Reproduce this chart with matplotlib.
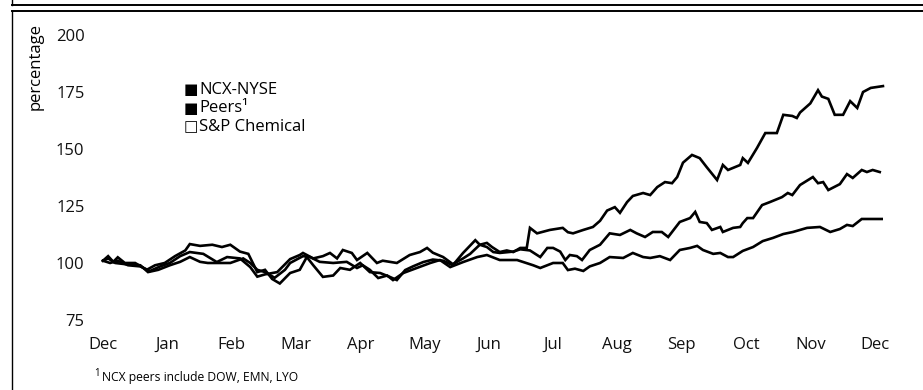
import matplotlib
matplotlib.use("Agg")
import matplotlib.pyplot as plt
from matplotlib.lines import Line2D

plt.rcParams["font.family"] = ["Open Sans", "DejaVu Sans"]

# ---- data (x = months since Dec, y = indexed performance in %) ----
months = ["Dec", "Jan", "Feb", "Mar", "Apr", "May", "Jun", "Jul", "Aug", "Sep", "Oct", "Nov", "Dec"]
y_ticks = [75, 100, 125, 150, 175, 200]

ncx_x = [0.00, 0.08, 0.16, 0.23, 0.34, 0.50, 0.68, 0.81, 0.96, 1.12, 1.28, 1.35, 1.51, 1.70, 1.85,
         1.98, 2.13, 2.26, 2.40, 2.52, 2.63, 2.75, 2.91, 3.06, 3.17, 3.27, 3.42, 3.58, 3.69, 3.84,
         4.00, 4.15, 4.31, 4.46, 4.57, 4.70, 4.82, 4.98, 5.13, 5.29, 5.44, 5.60, 5.79, 5.86, 5.97,
         6.05, 6.17, 6.28, 6.38, 6.49, 6.59, 6.64, 6.75, 6.95, 7.15, 7.23, 7.31, 7.47, 7.62, 7.73,
         7.84, 7.96, 8.04, 8.15, 8.24, 8.40, 8.51, 8.62, 8.74, 8.85, 8.93, 9.02, 9.16, 9.28, 9.39,
         9.55, 9.64, 9.72, 9.91, 9.95, 10.03, 10.17, 10.30, 10.48, 10.58, 10.72, 10.79, 10.84, 11.00,
         11.12, 11.18, 11.28, 11.38, 11.51, 11.62, 11.73, 11.82, 11.94, 12.13]
ncx_y = [101, 103, 100.5, 102.5, 100, 100, 97, 99, 100, 103, 105.5, 108.3, 107.5, 108, 107,
         108, 105, 104, 96, 97, 93, 91, 95.6, 97, 102.6, 99, 93.9, 94.5, 97.8, 97,
         100, 96, 95.6, 93.9, 92.5, 96.9, 98.5, 100.4, 101.5, 101, 99, 104.4, 110, 108, 108.8,
         107, 104.8, 105.5, 104.8, 106.6, 106.6, 115.4, 113, 114.5, 115.4, 113.5, 113, 114.5, 115.8, 118.5,
         123, 124.5, 122, 126.7, 129.4, 130.7, 129.8, 133.3, 135.5, 135, 137.7, 144, 147.4, 146, 142,
         136.4, 143, 140.8, 143, 146, 143.9, 150.4, 157, 157, 165, 164.5, 163.6, 166, 170,
         175.8, 173, 172, 165, 165, 171, 168, 175, 176.8, 177.6]

peers_x = [0.00, 0.11, 0.23, 0.39, 0.58, 0.73, 0.89, 1.04, 1.20, 1.35, 1.56, 1.77, 1.93, 2.13, 2.29,
           2.40, 2.52, 2.71, 2.91, 3.06, 3.11, 3.27, 3.42, 3.53, 3.64, 3.73, 3.87, 3.95, 4.11, 4.26,
           4.35, 4.46, 4.57, 4.77, 4.93, 5.04, 5.13, 5.29, 5.44, 5.60, 5.71, 5.86, 5.97, 6.07, 6.17,
           6.38, 6.49, 6.64, 6.80, 6.91, 7.00, 7.11, 7.19, 7.26, 7.37, 7.45, 7.57, 7.73, 7.88, 8.04,
           8.20, 8.30, 8.43, 8.55, 8.69, 8.79, 8.97, 9.13, 9.21, 9.28, 9.39, 9.47, 9.60, 9.64, 9.80,
           9.91, 9.95, 10.02, 10.11, 10.25, 10.37, 10.56, 10.65, 10.72, 10.84, 11.04, 11.12, 11.20, 11.28,
           11.46, 11.57, 11.66, 11.80, 11.88, 11.97, 12.08]
peers_y = [101, 100, 101, 99, 98.5, 96.5, 98.5, 100, 103, 104.8, 104, 100.4, 102.6, 102, 98.2,
           94, 95, 96, 101.7, 103.5, 104.4, 102, 103, 104.4, 102, 105.7, 104.4, 101.3, 104.4, 100,
           101, 100.5, 100, 103.5, 104.8, 106.6, 104.5, 102.6, 99.5, 102, 104, 108, 107, 104.8, 104.4,
           105, 106, 105.5, 102.6, 106.6, 106.6, 105, 101.3, 103.5, 103, 101.3, 105.7, 108, 113, 112.3,
           114.5, 113, 111.4, 113.6, 113.6, 111.4, 118, 119.7, 122.4, 118, 117.5, 114.5, 115.8, 113.6, 115.4,
           115.8, 117.5, 119.7, 119.7, 125.4, 126.7, 128.9, 130.7, 129.8, 134.2, 137.7, 135, 135.5, 132,
           134.6, 139, 137.3, 140.8, 139.9, 140.8, 139.9]

sp_x = [0.00, 0.08, 0.19, 0.34, 0.58, 0.70, 0.86, 1.04, 1.20, 1.35, 1.51, 1.63, 1.77, 1.98, 2.18,
        2.29, 2.40, 2.52, 2.67, 2.83, 2.91, 3.11, 3.22, 3.37, 3.58, 3.79, 3.95, 4.04, 4.15, 4.28,
        4.42, 4.51, 4.67, 4.88, 5.09, 5.24, 5.40, 5.60, 5.82, 5.97, 6.17, 6.44, 6.69, 6.80, 7.00,
        7.15, 7.23, 7.34, 7.47, 7.57, 7.73, 7.88, 8.09, 8.24, 8.40, 8.51, 8.66, 8.82, 8.97, 9.13,
        9.24, 9.33, 9.49, 9.60, 9.72, 9.80, 9.95, 10.11, 10.26, 10.42, 10.58, 10.73, 10.95, 11.15,
        11.31, 11.46, 11.57, 11.66, 11.80, 12.11]
sp_y = [101, 102, 100, 99.5, 99, 96, 97, 99, 100.5, 102.6, 100.5, 100, 100, 100, 102,
        100, 97, 96, 93.5, 97, 100, 103, 102.6, 100.5, 100, 100.5, 97.8, 99, 97, 93.4,
        94.5, 92.5, 95.6, 97.8, 100, 101.3, 98.2, 100.4, 102.6, 103.5, 101.3, 101.3, 99, 97.8, 100,
        100, 96.9, 97.5, 96.5, 98.5, 100, 102.6, 102.2, 104.4, 102.6, 102.2, 103, 101.3, 105.7, 106.6,
        107.5, 105.7, 104, 104.4, 102.6, 102.6, 105.3, 107, 109.6, 111, 112.7, 113.6, 115.4, 115.8,
        113.6, 114.9, 116.7, 116.2, 119.3, 119.3]

legend_labels = ["NCX-NYSE", "Peers\u00b9", "S&P Chemical"]
legend_marks = ["\u25a0", "\u25a0", "\u25a1"]

# ---- figure ----
W, H = 923, 390
fig = plt.figure(figsize=(W / 100, H / 100), dpi=100)
ax = fig.add_axes([90 / W, 60 / H, 810 / W, 305 / H])

for xs, ys in [(ncx_x, ncx_y), (peers_x, peers_y), (sp_x, sp_y)]:
    ax.plot(xs, ys, color="black", lw=1.9, solid_joinstyle="miter")

ax.set_xlim(-0.202, 12.395)
ax.set_ylim(70.6, 204.4)
ax.set_xticks(range(len(months)))
ax.set_xticklabels(months)
ax.set_yticks(y_ticks)
ax.set_yticklabels([str(v) for v in y_ticks])
ax.tick_params(axis="both", length=0, labelsize=12, colors="#111111")
ax.tick_params(axis="y", pad=4)
ax.tick_params(axis="x", pad=5)
for sp in ax.spines.values():
    sp.set_visible(False)

fig.text(36 / W, 1 - 66 / H, "percentage", rotation=90, ha="center", va="center", fontsize=12)

# 凡例（手書き）
for i, (mk, lab) in enumerate(zip(legend_marks, legend_labels)):
    yy = 1 - (90 + i * 18.5) / H
    fig.text(184 / W, yy, mk, ha="left", va="center", fontsize=11, family=["DejaVu Sans"])
    fig.text(199 / W, yy, lab, ha="left", va="center", fontsize=12)

# 脚注
fig.text(94 / W, 1 - 373 / H, "1", ha="left", va="center", fontsize=7)
fig.text(102 / W, 1 - 377 / H, "NCX peers include DOW, EMN, LYO", ha="left", va="center", fontsize=8.7)

# ---- 枠線 ----
def fig_line(x0, y0, x1, y1, lw):
    fig.add_artist(Line2D([x0 / W, x1 / W], [1 - y0 / H, 1 - y1 / H], color="black", lw=lw,
                          transform=fig.transFigure))

fig_line(12, 5, W, 5, 1.4)
fig_line(12, 0, 12, 5, 1.0)
fig_line(12, 11, W, 11, 1.4)
fig_line(12, 11, 12, H, 1.0)

fig.savefig("out.png", dpi=100)
